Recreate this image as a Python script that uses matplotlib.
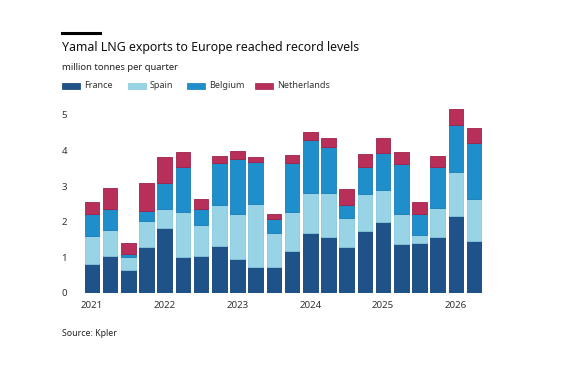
import matplotlib.pyplot as plt
import matplotlib.patches as mpatches
import numpy as np

plt.rcParams['font.family'] = ['Noto Sans', 'DejaVu Sans']

years = ['2021', '2022', '2023', '2024', '2025', '2026']
# stacked tops, quarters 2021 Q1 .. 2026 Q2
france_top = [0.81, 1.03, 0.64, 1.29, 1.83, 1.01, 1.03, 1.31, 0.95, 0.72, 0.72,
              1.17, 1.69, 1.56, 1.30, 1.75, 1.98, 1.38, 1.40, 1.58, 2.15, 1.47]
spain_top = [1.61, 1.77, 1.01, 2.03, 2.35, 2.27, 1.90, 2.46, 2.22, 2.50, 1.69,
             2.27, 2.80, 2.81, 2.11, 2.78, 2.88, 2.21, 1.63, 2.39, 3.41, 2.65]
belgium_top = [2.21, 2.35, 1.09, 2.31, 3.09, 3.54, 2.35, 3.64, 3.76, 3.69, 2.07,
               3.65, 4.30, 4.09, 2.48, 3.54, 3.92, 3.61, 2.21, 3.55, 4.73, 4.20]
neth_top = [2.56, 2.95, 1.39, 3.10, 3.81, 3.97, 2.64, 3.85, 3.98, 3.81, 2.21,
            3.87, 4.51, 4.35, 2.92, 3.89, 4.36, 3.97, 2.56, 3.85, 5.17, 4.63]

france = np.array(france_top)
spain = np.array(spain_top) - np.array(france_top)
belgium = np.array(belgium_top) - np.array(spain_top)
netherlands = np.array(neth_top) - np.array(belgium_top)

names = ['France', 'Spain', 'Belgium', 'Netherlands']
colors = ['#1f5289', '#98d3e6', '#1f8fcc', '#b8305a']
edges = ['#123f73', '#86c9df', '#1a7cb6', '#9c2249']

fig = plt.figure(figsize=(5.7, 3.8), dpi=100)
ax = fig.add_axes([0.142, 0.229, 0.709, 0.492])

x = np.arange(len(france))
bottom = np.zeros(len(x))
for vals, c, e in zip([france, spain, belgium, netherlands], colors, edges):
    ax.bar(x, vals, bottom=bottom, width=0.8, color=c, edgecolor=e, linewidth=0.6)
    bottom = bottom + vals

ax.set_xlim(-0.6, len(x) - 0.4)
ax.set_ylim(0, 5.25)
ax.set_yticks(range(6))
ax.set_xticks(x[::4])
ax.set_xticklabels(years)
ax.tick_params(length=0, labelsize=7, colors='#333333')
ax.tick_params(axis='y', pad=10)
ax.tick_params(axis='x', pad=6)
for s in ax.spines.values():
    s.set_visible(False)

# header
fig.add_artist(plt.Line2D([62 / 570, 100 / 570], [1 - 33 / 380] * 2, color='black', lw=2.2))
fig.text(62 / 570, 1 - 47 / 380, 'Yamal LNG exports to Europe reached record levels',
         fontsize=8.9, fontweight='semibold', va='center', ha='left', color='#111111')
fig.text(62 / 570, 1 - 68 / 380, 'million tonnes per quarter',
         fontsize=6.8, va='center', ha='left', color='#222222')

leg_x = [62, 128, 187, 255]
for lx, n, c, e in zip(leg_x, names, colors, edges):
    fig.add_artist(mpatches.Rectangle((lx / 570, 1 - 89 / 380), 18 / 570, 6 / 380,
                                      facecolor=c, edgecolor=e, lw=0.5))
    fig.text((lx + 22) / 570, 1 - 86 / 380, n, fontsize=6.5, va='center',
             ha='left', color='#333333')

fig.text(62 / 570, 1 - 333 / 380, 'Source: Kpler', fontsize=6.3, va='center',
         ha='left', color='#222222')

fig.savefig('out.png', dpi=100)
